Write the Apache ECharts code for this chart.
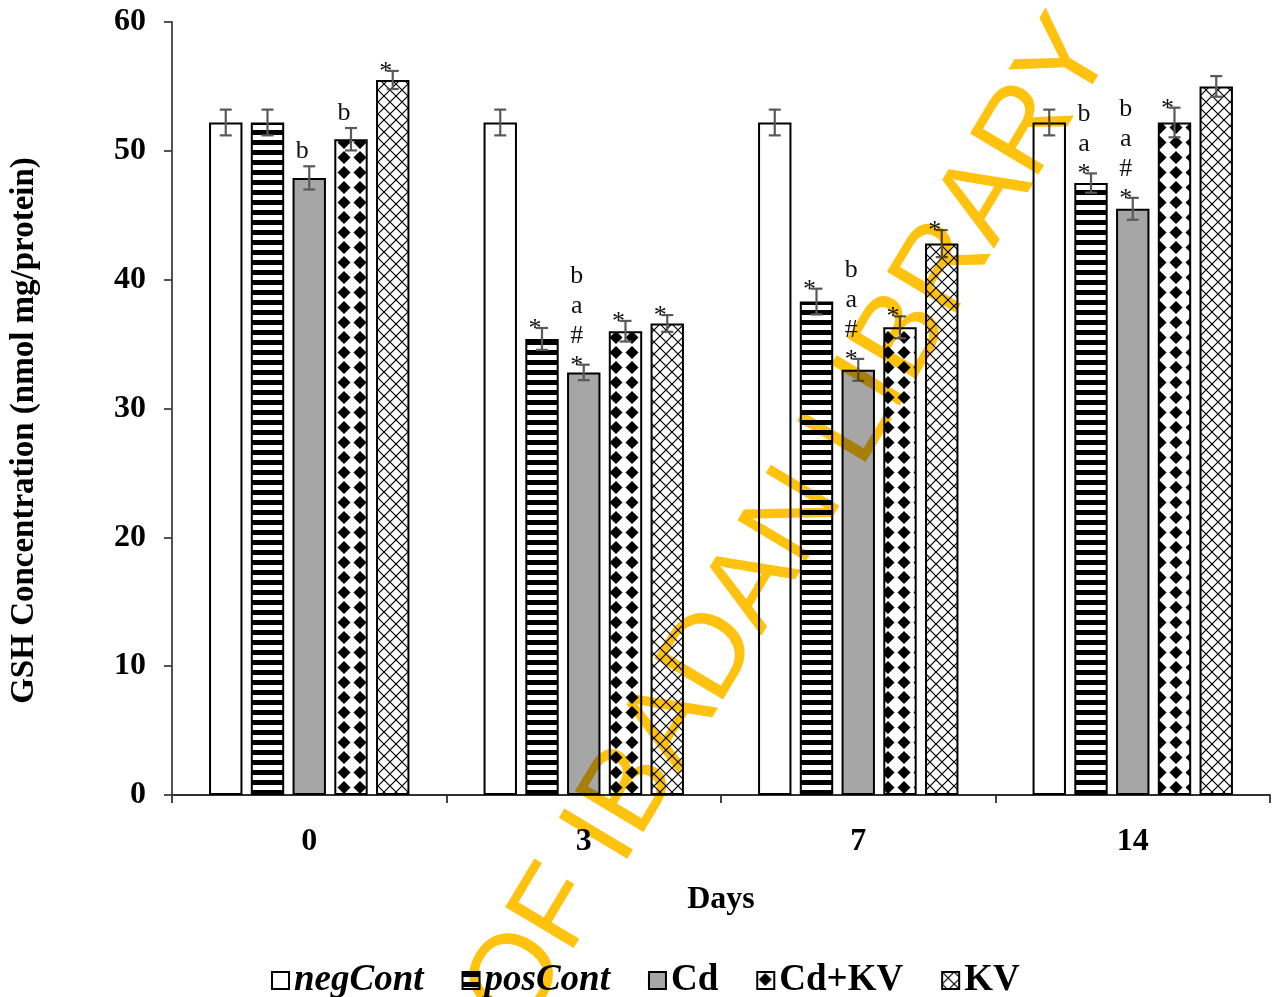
<!DOCTYPE html>
<html>
<head>
<meta charset="utf-8">
<script src="https://cdn.jsdelivr.net/npm/echarts@6/dist/echarts.min.js"></script>
<style>
html,body{margin:0;padding:0;background:#fff;}
#chart{width:1274px;height:997px;}
#chart canvas + canvas{mix-blend-mode:multiply;}
</style>
</head>
<body>
<div id="chart"></div>
<script>
// ---- data ----
const days = ['0', '3', '7', '14'];
const seriesNames = ['negCont', 'posCont', 'Cd', 'Cd+KV', 'KV'];

const negCont = [52.2, 52.2, 52.2, 52.2];
const posCont = [52.2, 35.4, 38.3, 47.5];
const cd      = [47.9, 32.8, 33.0, 45.5];
const cdkv    = [50.9, 36.0, 36.3, 52.2];
const kv      = [55.5, 36.6, 42.8, 55.0];

const negContErr = [1.0, 1.0, 1.0, 1.0];
const posContErr = [1.0, 0.85, 1.0, 0.75];
const cdErr      = [0.9, 0.6, 0.85, 0.85];
const cdkvErr    = [0.87, 0.8, 0.85, 1.15];
const kvErr      = [0.7, 0.65, 1.05, 0.8];

const negContNotes = ['', '', '', ''];
const posContNotes = ['', '*', '*', 'b\na\n*'];
const cdNotes      = ['b', 'b\na\n#\n*', 'b\na\n#\n*', 'b\na\n#\n*'];
const cdkvNotes    = ['b', '*', '*', '*'];
const kvNotes      = ['*', '*', '*', ''];

const yTicks = { min: 0, max: 60, interval: 10 };

// ---- patterns ----
function mk(w, h, draw) {
  const c = document.createElement('canvas');
  c.width = w; c.height = h;
  const ctx = c.getContext('2d');
  ctx.fillStyle = '#fff'; ctx.fillRect(0, 0, w, h);
  draw(ctx);
  return { image: c, repeat: 'repeat' };
}
const stripePat = mk(10, 10, ctx => { ctx.fillStyle = '#000'; ctx.fillRect(0, 0, 10, 5); });
const diamondPat = mk(16, 15, ctx => {
  ctx.fillStyle = '#000';
  ctx.beginPath();
  ctx.moveTo(8, 1); ctx.lineTo(14.5, 7.5); ctx.lineTo(8, 14); ctx.lineTo(1.5, 7.5);
  ctx.closePath(); ctx.fill();
});
const latticePat = mk(12, 12, ctx => {
  ctx.strokeStyle = '#000'; ctx.lineWidth = 1.2;
  ctx.beginPath();
  ctx.moveTo(0, 0); ctx.lineTo(12, 12);
  ctx.moveTo(12, 0); ctx.lineTo(0, 12);
  ctx.stroke();
});

const values = [negCont, posCont, cd, cdkv, kv];
const errs = [negContErr, posContErr, cdErr, cdkvErr, kvErr];
const notes = [negContNotes, posContNotes, cdNotes, cdkvNotes, kvNotes];
const fills = ['#ffffff', stripePat, '#a6a6a6', diamondPat, latticePat];

const CAT_GAP = 0.27, BAR_GAP = 0.25, N = 5;
const SERIF = '"Liberation Serif", "Times New Roman", serif';

function makeErrSeries(k) {
  return {
    type: 'custom',
    name: seriesNames[k] + '_err',
    z: 5,
    silent: true,
    data: values[k].map((v, i) => [i, v, errs[k][i]]),
    encode: { x: 0, y: 1 },
    renderItem: function (params, api) {
      const idx = api.value(0), v = api.value(1), e = api.value(2);
      const note = notes[k][idx];
      const bandW = api.size([1, 0])[0];
      const usable = bandW * (1 - CAT_GAP);
      const bw = usable / (N + (N - 1) * BAR_GAP);
      const off = -usable / 2 + k * bw * (1 + BAR_GAP) + bw / 2;
      const x = api.coord([idx, v])[0] + off;
      const top = api.coord([idx, v + e])[1];
      const bot = api.coord([idx, v - e])[1];
      const cap = 6;
      const ls = { stroke: '#595959', lineWidth: 2.2 };
      const children = [
        { type: 'line', shape: { x1: x, y1: top, x2: x, y2: bot }, style: ls },
        { type: 'line', shape: { x1: x - cap, y1: top, x2: x + cap, y2: top }, style: ls },
        { type: 'line', shape: { x1: x - cap, y1: bot, x2: x + cap, y2: bot }, style: ls }
      ];
      if (note) {
        const endsStar = note.charAt(note.length - 1) === '*';
        children.push({
          type: 'text',
          style: {
            text: note, x: x - 7, y: top + (endsStar ? 16 : 0),
            align: 'center', verticalAlign: 'bottom',
            font: '26px ' + SERIF, lineHeight: 30, fill: '#111'
          }
        });
      }
      return { type: 'group', children: children };
    }
  };
}

const barSeries = seriesNames.map((n, k) => ({
  type: 'bar',
  name: n,
  data: values[k],
  barGap: (BAR_GAP * 100) + '%',
  barCategoryGap: (CAT_GAP * 100) + '%',
  itemStyle: { color: fills[k], borderColor: '#000', borderWidth: 2 },
  emphasis: { disabled: true },
  z: 2
}));

const chart = echarts.init(document.getElementById('chart'), null, { renderer: 'canvas' });
chart.setOption({
  animation: false,
  backgroundColor: '#fff',
  grid: { left: 172, right: 4, top: 22, bottom: 202, containLabel: false },
  legend: {
    data: seriesNames,
    left: 266, top: 957,
    icon: 'rect',
    itemWidth: 17, itemHeight: 17, itemGap: 38,
    formatter: n => (n === 'negCont' || n === 'posCont') ? '{i|' + n + '}' : '{n|' + n + '}',
    textStyle: {
      rich: {
        i: { fontFamily: SERIF, fontSize: 37, fontWeight: 'bold', fontStyle: 'italic', color: '#000' },
        n: { fontFamily: SERIF, fontSize: 37, fontWeight: 'bold', color: '#000' }
      }
    }
  },
  xAxis: {
    type: 'category',
    data: days,
    name: 'Days',
    nameLocation: 'middle',
    nameGap: 89,
    nameTextStyle: { fontFamily: SERIF, fontSize: 32, fontWeight: 'bold', color: '#000' },
    axisLine: { lineStyle: { color: '#303030', width: 1.8 } },
    axisTick: { show: true, length: 8, lineStyle: { color: '#303030', width: 1.8 } },
    axisLabel: { margin: 31, fontFamily: SERIF, fontSize: 32, fontWeight: 'bold', color: '#000' }
  },
  yAxis: {
    type: 'value',
    min: yTicks.min, max: yTicks.max, interval: yTicks.interval,
    name: 'GSH Concentration (nmol mg/protein)',
    nameLocation: 'middle',
    nameGap: 131,
    nameTextStyle: { fontFamily: SERIF, fontSize: 33, fontWeight: 'bold', color: '#000', padding: [0, 44, 0, 0] },
    axisLine: { show: true, lineStyle: { color: '#404040', width: 1.8 } },
    axisTick: { show: true, length: 8, lineStyle: { color: '#404040', width: 1.8 } },
    splitLine: { show: false },
    axisLabel: { margin: 26, fontFamily: SERIF, fontSize: 32, fontWeight: 'bold', color: '#000' }
  },
  graphic: [{
    type: 'text',
    zlevel: 1,
    z: 100,
    silent: true,
    x: 1088, y: 30,
    rotation: 59 * Math.PI / 180,
    style: {
      text: 'UNIVERSITY OF IBADAN LIBRARY',
      align: 'right', verticalAlign: 'middle',
      font: '116px "Liberation Sans", Arial, sans-serif',
      fill: '#FFC20E'
    }
  }],
  series: barSeries.concat(seriesNames.map((n, k) => makeErrSeries(k)))
});
</script>
</body>
</html>
